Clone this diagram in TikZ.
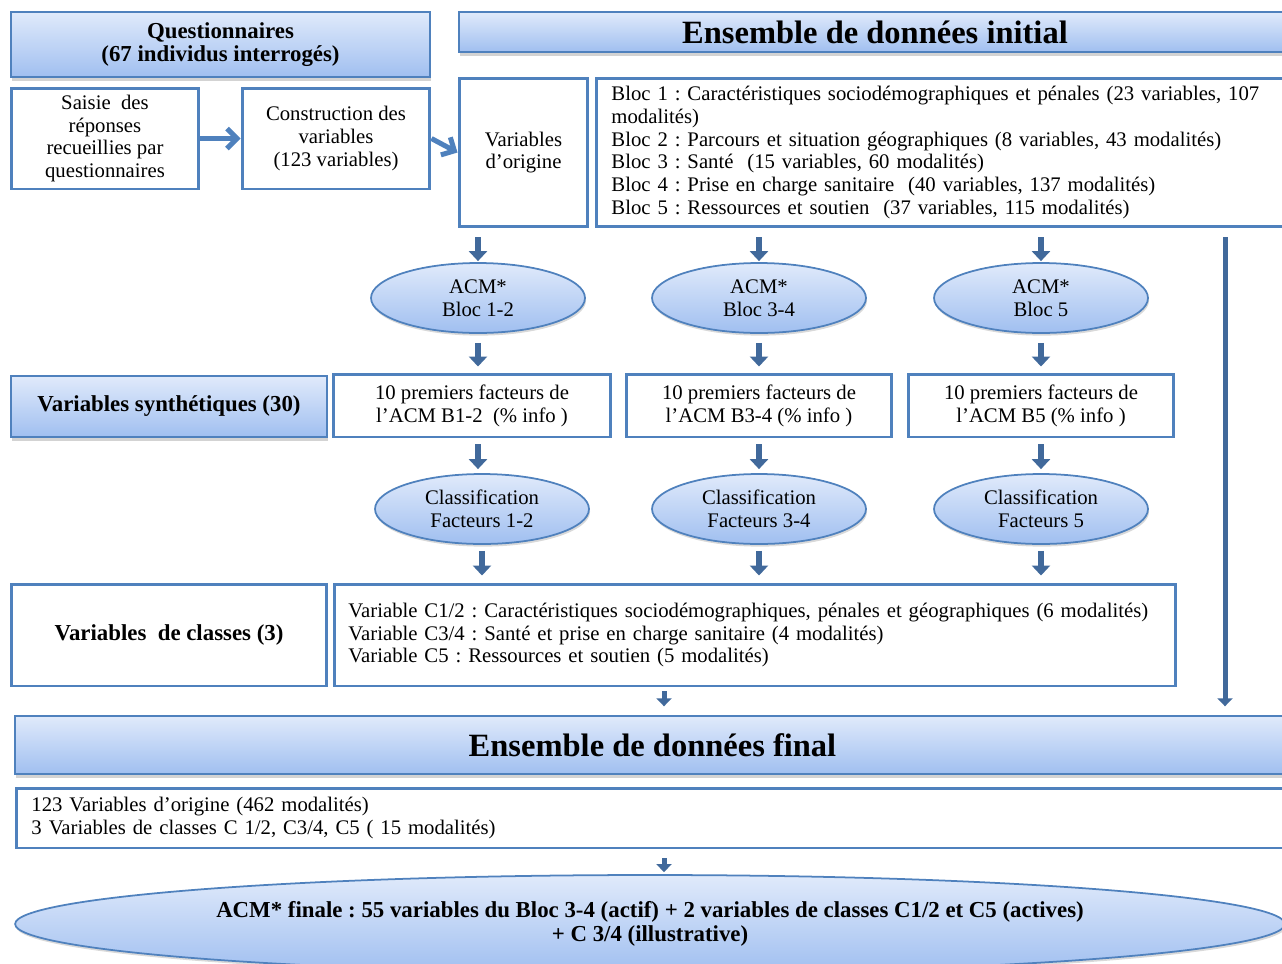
\documentclass[tikz,border=0pt]{standalone}
\usepackage{fontspec}
\setmainfont{Liberation Serif}
\usetikzlibrary{arrows.meta,positioning,shapes.geometric,shadows}
\definecolor{boxblue}{RGB}{79,129,189}
\definecolor{arrowblue}{RGB}{65,105,155}
\definecolor{toplight}{RGB}{224,234,251}
\definecolor{botblue}{RGB}{160,191,240}
\frenchspacing

\begin{document}
\begin{tikzpicture}[x=0.02cm,y=-0.02cm,
  header/.style={draw=boxblue,line width=0.8pt,top color=toplight,bottom color=botblue,
    drop shadow={shadow xshift=0.6pt,shadow yshift=-2pt,opacity=0.35},
    font=\fontsize{13}{13.5}\selectfont\bfseries,align=center,inner sep=0pt},
  bigheader/.style={header,font=\fontsize{18.5}{20}\selectfont\bfseries},
  plainbox/.style={draw=boxblue,line width=1.7pt,fill=white,
    font=\fontsize{11.8}{13}\selectfont,align=center,inner sep=0pt},
  listbox/.style={plainbox,align=left,inner xsep=0.3cm,anchor=west},
  acm/.style={ellipse,draw=boxblue,line width=1pt,top color=toplight,bottom color=botblue,
    drop shadow={shadow xshift=0.6pt,shadow yshift=-1.5pt,opacity=0.3},
    minimum width=4.28cm,minimum height=1.4cm,inner sep=0pt,align=center,
    font=\fontsize{11.8}{13}\selectfont},
  downarrow/.style={arrowblue,line width=0.12cm,-{Triangle[length=0.2cm,width=0.36cm]}},
  smallarrow/.style={arrowblue,line width=0.1cm,-{Triangle[length=0.16cm,width=0.3cm]}},
  sidearrow/.style={boxblue,line width=0.1cm,-{Straight Barb[length=0.2cm,width=0.4cm]}}]

\clip (0,0) rectangle (1282,964);
\useasboundingbox (0,0) rectangle (1282,964);

\node[header,minimum width=8.38cm,minimum height=1.3cm] (quest) at (220.5,44.5)
  {Questionnaires\\(67 individus interrogés)};
\node[bigheader,minimum width=16.64cm,minimum height=0.8cm] (initial) at (875,32)
  {Ensemble de données initial};

\node[plainbox,minimum width=3.76cm,minimum height=2.02cm] (saisie) at (105,138.5)
  {Saisie~ des\\réponses\\recueillies par\\questionnaires};
\node[plainbox,minimum width=3.76cm,minimum height=2.02cm] (constr) at (336,138.5)
  {Construction des\\variables\\(123 variables)};
\node[plainbox,minimum width=2.58cm,minimum height=2.98cm] (origine) at (523.5,152.5)
  {Variables\\d’origine};
\node[listbox,text width=13.5cm,minimum height=2.98cm] (blocs) at (595,152.5)
  {Bloc 1 : Caractéristiques sociodémographiques et pénales (23 variables, 107\\
   modalités)\\
   Bloc 2 : Parcours et situation géographiques (8 variables, 43 modalités)\\
   Bloc 3 : Santé~ (15 variables, 60 modalités)\\
   Bloc 4 : Prise en charge sanitaire~ (40 variables, 137 modalités)\\
   Bloc 5 : Ressources et soutien~ (37 variables, 115 modalités)};

\node[acm] (acm1) at (478,298) {ACM*\\Bloc 1-2};
\node[acm] (acm2) at (759,298) {ACM*\\Bloc 3-4};
\node[acm] (acm3) at (1041,298) {ACM*\\Bloc 5};

\node[header,minimum width=6.32cm,minimum height=1.22cm] (synth) at (169,406.5)
  {Variables synthétiques (30)};
\node[plainbox,minimum width=5.56cm,minimum height=1.26cm] (fact1) at (472,405.5)
  {10 premiers facteurs de\\l’ACM B1-2~ (\% info )};
\node[plainbox,minimum width=5.32cm,minimum height=1.26cm] (fact2) at (759,405.5)
  {10 premiers facteurs de\\l’ACM B3-4 (\% info )};
\node[plainbox,minimum width=5.32cm,minimum height=1.26cm] (fact3) at (1041,405.5)
  {10 premiers facteurs de\\l’ACM B5 (\% info )};

\node[acm] (class1) at (482,509) {Classification\\Facteurs 1-2};
\node[acm] (class2) at (759,509) {Classification\\Facteurs 3-4};
\node[acm] (class3) at (1041,509) {Classification\\Facteurs 5};

\node[plainbox,minimum width=6.32cm,minimum height=2.04cm,
  font=\fontsize{13}{13.5}\selectfont\bfseries] (varcl) at (169,635)
  {Variables~ de classes (3)};
\node[listbox,text width=16.26cm,inner xsep=0.28cm,minimum height=2.04cm] (varc) at (333,635)
  {Variable C1/2 : Caractéristiques sociodémographiques, pénales et géographiques (6 modalités)\\
   Variable C3/4 : Santé et prise en charge sanitaire (4 modalités)\\
   Variable C5 : Ressources et soutien (5 modalités)};

\node[bigheader,minimum width=25.5cm,minimum height=1.16cm] (finhead) at (652.5,745)
  {Ensemble de données final};
\node[listbox,text width=25.1cm,minimum height=1.2cm] (finbox) at (15,818)
  {123 Variables d’origine (462 modalités)\\
   3 Variables de classes C 1/2, C3/4, C5 ( 15 modalités)};

\node[acm,minimum width=25.4cm,minimum height=1.96cm,
  font=\fontsize{13}{13.5}\selectfont\bfseries] (acmf) at (650,924)
  {ACM* finale : 55 variables du Bloc 3-4 (actif) + 2 variables de classes C1/2 et C5 (actives)\\
   + C 3/4 (illustrative)};

\coordinate (fx) at (664,0);
\coordinate (rx) at (1225,0);

\draw[sidearrow] (saisie) -- (constr);
\draw[sidearrow] (constr.east) -- (origine.west);

\foreach \a in {acm1,acm2,acm3}
  \draw[downarrow,shorten <=0.18cm,shorten >=0.02cm] (\a.north |- blocs.south) -- (\a.north);
\draw[downarrow,shorten <=0.18cm,shorten >=0.12cm] (acm1.south) -- (acm1.south |- fact1.north);
\draw[downarrow,shorten <=0.18cm,shorten >=0.12cm] (acm2.south) -- (acm2.south |- fact2.north);
\draw[downarrow,shorten <=0.18cm,shorten >=0.12cm] (acm3.south) -- (acm3.south |- fact3.north);
\draw[downarrow,shorten <=0.12cm,shorten >=0.08cm] (acm1.south |- fact1.south) -- (acm1.south |- class1.north);
\draw[downarrow,shorten <=0.12cm,shorten >=0.08cm] (class2.north |- fact2.south) -- (class2.north);
\draw[downarrow,shorten <=0.12cm,shorten >=0.08cm] (class3.north |- fact3.south) -- (class3.north);
\foreach \c in {class1,class2,class3}
  \draw[downarrow,shorten <=0.12cm,shorten >=0.14cm] (\c.south) -- (\c.south |- varc.north);

\draw[smallarrow,shorten <=0.08cm,shorten >=0.18cm] (fx |- varc.south) -- (fx |- finhead.north);
\draw[smallarrow,shorten <=0.18cm,shorten >=0.04cm] (fx |- finbox.south) -- (fx |- acmf.north);
\draw[smallarrow,shorten <=0.18cm,shorten >=0.18cm] (rx |- blocs.south) -- (rx |- finhead.north);
\end{tikzpicture}
\end{document}
